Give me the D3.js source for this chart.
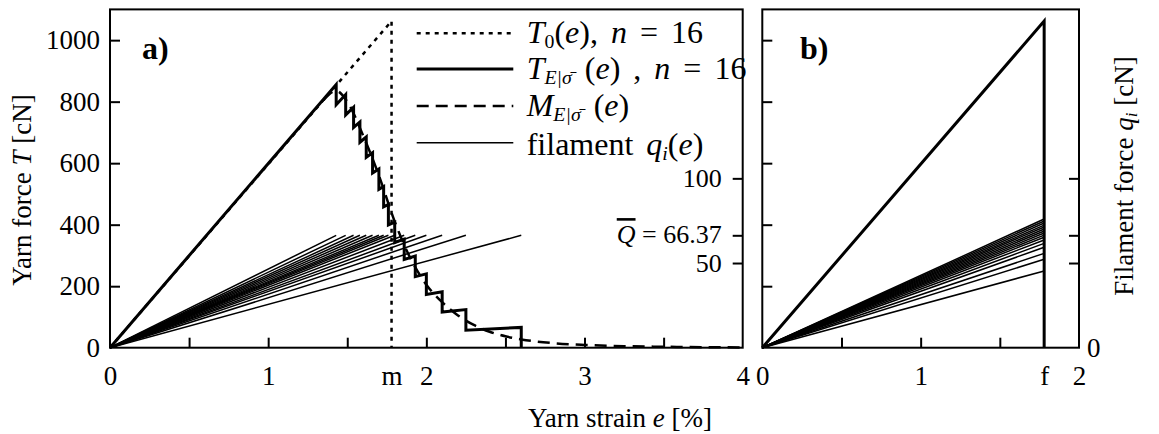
<!DOCTYPE html>
<html>
<head>
<meta charset="utf-8">
<script src="https://cdn.jsdelivr.net/npm/d3@7"></script>
<style>
  body { margin: 0; background: #fff; }
  svg { display: block; }
  text { font-family: "Liberation Serif", "DejaVu Serif", serif; fill: #000; }
</style>
</head>
<body>
<svg id="viz"></svg>
<script>
var width = 1159;
var height = 434;

// filament break strains [%] (panel a), every filament breaks at the mean force
var breakStrain = [1.43, 1.49, 1.54, 1.58, 1.62, 1.66, 1.70, 1.73, 1.76, 1.80, 1.86, 1.93, 2.00, 2.10, 2.25, 2.60];
var meanForce = 66.37;

// yarn force staircase T_E (strain, force)
var stairE = [0, 1.43, 1.43, 1.49, 1.49, 1.54, 1.54, 1.58, 1.58, 1.62, 1.62, 1.66, 1.66, 1.70, 1.70, 1.73, 1.73, 1.76, 1.76, 1.80, 1.80, 1.86, 1.86, 1.93, 1.93, 2.00, 2.00, 2.10, 2.10, 2.25, 2.25, 2.60, 2.60];
var stairT = [0, 856, 790, 823, 757, 782, 716, 734, 668, 685, 619, 634, 568, 581, 515, 524, 458, 466, 399, 408, 342, 353, 287, 298, 231, 240, 173, 182, 116, 124, 57, 66, 0];

// ideal yarn T_0
var idealE = [0, 1.78, 1.78];
var idealT = [0, 1062, 0];

// mean curve M_E
var meanE = [1.35, 1.43, 1.50, 1.60, 1.70, 1.80, 1.90, 2.00, 2.10, 2.20, 2.30, 2.40, 2.50, 2.60, 2.80, 3.00, 3.25, 3.50, 3.75, 4.00];
var meanT = [805, 835, 800, 690, 560, 410, 290, 205, 148, 105, 74, 52, 37, 27, 15, 9, 5, 3, 1.5, 1];

// panel b: filament forces at the strain f, yarn force peak
var fStrain = 1.78;
var filamentForceB = [76.0, 74.8, 73.6, 72.4, 71.3, 70.1, 68.9, 67.7, 66.5, 65.2, 63.6, 61.6, 59.3, 55.7, 52.2, 45.3];
var yarnPeakB = 1062;

// ticks
var yarnTicks = [0, 200, 400, 600, 800, 1000];
var filTicks = [50, 66.37, 100];
var xMinorA = [0.5, 1, 1.5, 2, 2.5, 3, 3.5];
var xLabelsA = [0, 1, 1.78, 2, 3, 4];
var xMinorB = [0.5, 1, 1.5];
var xLabelsB = [0, 1, 1.78, 2];

var svg = d3.select("#viz").attr("width", width).attr("height", height);

var xA = d3.scaleLinear().domain([0, 4]).range([110, 742.7]);
var xB = d3.scaleLinear().domain([0, 2]).range([762.3, 1079]);
var yT = d3.scaleLinear().domain([0, 1100]).range([347.7, 9.4]);
var yQ = d3.scaleLinear().domain([0, 200]).range([347.7, 9]);
var plotBottom = 347.7, plotTop = 9.4;
var fs = 27;

function zip(a, b) {
    return a.map(function (d, i) { return [d, b[i]]; });
}

function styleAxis(g) {
    g.select(".domain").remove();
    g.selectAll(".tick line").attr("stroke", "#000").attr("stroke-width", 2);
    g.selectAll("text").style("font-size", "27px").attr("fill", "#000");
}

// rich text helper: parts = [text, italic, sub]
function rich(t, parts, size) {
    parts.forEach(function (p) {
        var s = t.append("tspan").text(p[0]);
        if (p[1]) s.style("font-style", "italic");
        if (p[2] == "sub") s.attr("dy", size * 0.16).style("font-size", (size * 0.62) + "px");
        if (p[2] == "up") s.attr("dy", -size * 0.16);
    });
}

// ---------------- panel a ----------------
var gA = svg.append("g");

var lineA = d3.line().x(function (d) { return xA(d[0]); }).y(function (d) { return yT(d[1]); });
var lineAQ = d3.line().x(function (d) { return xA(d[0]); }).y(function (d) { return yQ(d[1]); });

// filaments
gA.selectAll(".fil").data(breakStrain).enter().append("path")
    .attr("d", function (d) { return lineAQ([[0, 0], [d, meanForce]]); })
    .attr("fill", "none").attr("stroke", "#000").attr("stroke-width", 1.5);

// mean curve
gA.append("path")
    .attr("d", d3.line().curve(d3.curveMonotoneX).x(function (d) { return xA(d[0]); }).y(function (d) { return yT(d[1]); })(zip(meanE, meanT)))
    .attr("fill", "none").attr("stroke", "#000").attr("stroke-width", 2.5).attr("stroke-dasharray", "12,7");

// ideal
gA.append("path")
    .attr("d", lineA(zip(idealE, idealT)))
    .attr("fill", "none").attr("stroke", "#000").attr("stroke-width", 2.5).attr("stroke-dasharray", "4,5");

// staircase
gA.append("path")
    .attr("d", lineA(zip(stairE, stairT)))
    .attr("fill", "none").attr("stroke", "#000").attr("stroke-width", 3).attr("stroke-linejoin", "miter");

// ticks
gA.append("g").attr("transform", "translate(0," + plotBottom + ")")
    .call(d3.axisBottom(xA).tickValues(xMinorA).tickSize(-10).tickFormat(""))
    .call(styleAxis);
gA.append("g").attr("transform", "translate(0," + plotBottom + ")")
    .call(d3.axisBottom(xA).tickValues(xLabelsA).tickSize(0).tickPadding(18)
        .tickFormat(function (d) { return d == 1.78 ? "m" : d; }))
    .call(styleAxis);
var leftA = gA.append("g").attr("transform", "translate(110,0)")
    .call(d3.axisLeft(yT).tickValues(yarnTicks).tickSize(-10).tickPadding(10).tickFormat(d3.format("d")))
    .call(styleAxis);
leftA.selectAll(".tick").filter(function (d) { return d == 0; }).select("line").remove();

var rightA = gA.append("g").attr("transform", "translate(742.7,0)")
    .call(d3.axisLeft(yQ).tickValues(filTicks).tickSize(10).tickPadding(11))
    .call(styleAxis);
rightA.selectAll(".tick text").style("font-size", "26px");
rightA.selectAll(".tick text").filter(function (d) { return d == 66.37; })
    .text(null)
    .attr("dy", "0.28em")
    .each(function () {
        var t = d3.select(this);
        t.append("tspan").text("Q").style("font-style", "italic").style("text-decoration", "overline");
        t.append("tspan").text(" = 66.37");
    });

gA.append("rect").attr("x", 110).attr("y", plotTop).attr("width", 742.7 - 110).attr("height", plotBottom - plotTop)
    .attr("fill", "none").attr("stroke", "#000").attr("stroke-width", 2);

gA.append("text").attr("x", 142).attr("y", 59).style("font-size", "32px").style("font-weight", "bold").text("a)");

// legend
var legendRows = [
    { dash: "4,5", w: 2.5, dy: 10, parts: [["T", 1], ["0", 0, "sub"], ["(", 0, "up"], ["e", 1], ["),  "], ["n", 1], [" = 16"]] },
    { dash: null, w: 3.2, dy: 10, parts: [["T", 1], ["E|σ̄", 1, "sub"], [" (", 0, "up"], ["e", 1], [") , "], ["n", 1], [" = 16"]] },
    { dash: "12,7", w: 2.5, dy: 10, parts: [["M", 1], ["E|σ̄", 1, "sub"], [" (", 0, "up"], ["e", 1], [")"]] },
    { dash: null, w: 1.5, dy: 12, parts: [["filament "], ["q", 1], ["i", 1, "sub"], ["(", 0, "up"], ["e", 1], [")"]] }
];
var legendY = [33.3, 69, 106, 142.7];
var leg = gA.selectAll(".leg").data(legendRows).enter().append("g")
    .attr("transform", function (d, i) { return "translate(0," + legendY[i] + ")"; });
leg.append("line").attr("x1", 416.7).attr("x2", 513.3).attr("stroke", "#000")
    .attr("stroke-width", function (d) { return d.w; })
    .attr("stroke-dasharray", function (d) { return d.dash; });
leg.append("text").attr("x", 526.7).attr("y", function (d) { return d.dy; })
    .style("font-size", "32px").style("word-spacing", "5px")
    .each(function (d) {
        rich(d3.select(this), d.parts, 32);
    });

// ---------------- panel b ----------------
var gB = svg.append("g");
var lineBQ = d3.line().x(function (d) { return xB(d[0]); }).y(function (d) { return yQ(d[1]); });
var lineBT = d3.line().x(function (d) { return xB(d[0]); }).y(function (d) { return yT(d[1]); });

gB.selectAll(".fil").data(filamentForceB).enter().append("path")
    .attr("d", function (d) { return lineBQ([[0, 0], [fStrain, d]]); })
    .attr("fill", "none").attr("stroke", "#000").attr("stroke-width", 1.5);

gB.append("path")
    .attr("d", lineBT([[0, 0], [fStrain, yarnPeakB], [fStrain, 0]]))
    .attr("fill", "none").attr("stroke", "#000").attr("stroke-width", 3);

gB.append("g").attr("transform", "translate(0," + plotBottom + ")")
    .call(d3.axisBottom(xB).tickValues(xMinorB).tickSize(-10).tickFormat(""))
    .call(styleAxis);
gB.append("g").attr("transform", "translate(0," + plotBottom + ")")
    .call(d3.axisBottom(xB).tickValues(xLabelsB).tickSize(0).tickPadding(18)
        .tickFormat(function (d) { return d == 1.78 ? "f" : d; }))
    .call(styleAxis);
gB.append("g").attr("transform", "translate(762.3,0)")
    .call(d3.axisLeft(yT).tickValues(yarnTicks.slice(1)).tickSize(-10).tickFormat(""))
    .call(styleAxis);
gB.append("g").attr("transform", "translate(1079,0)")
    .call(d3.axisRight(yQ).tickValues(filTicks).tickSize(-10).tickFormat(""))
    .call(styleAxis);
gB.append("g").attr("transform", "translate(1079,0)")
    .call(d3.axisRight(yQ).tickValues([0]).tickSize(0).tickPadding(8))
    .call(styleAxis);

gB.append("rect").attr("x", 762.3).attr("y", plotTop).attr("width", 1079 - 762.3).attr("height", plotBottom - plotTop)
    .attr("fill", "none").attr("stroke", "#000").attr("stroke-width", 2);

gB.append("text").attr("x", 800).attr("y", 59).style("font-size", "32px").style("font-weight", "bold").text("b)");

// ---------------- axis titles ----------------
var ty = svg.append("text").attr("transform", "translate(31,190) rotate(-90)")
    .attr("text-anchor", "middle").style("font-size", fs + "px");
rich(ty, [["Yarn force  "], ["T", 1], [" [cN]"]], fs);

var tq = svg.append("text").attr("transform", "translate(1133,176) rotate(-90)")
    .attr("text-anchor", "middle").style("font-size", fs + "px");
rich(tq, [["Filament force "], ["q", 1], ["i", 1, "sub"], [" [cN]", 0, "up"]], fs);

var tx = svg.append("text").attr("x", 620).attr("y", 427)
    .attr("text-anchor", "middle").style("font-size", fs + "px");
rich(tx, [["Yarn strain "], ["e", 1], [" [%]"]], fs);
</script>
</body>
</html>
